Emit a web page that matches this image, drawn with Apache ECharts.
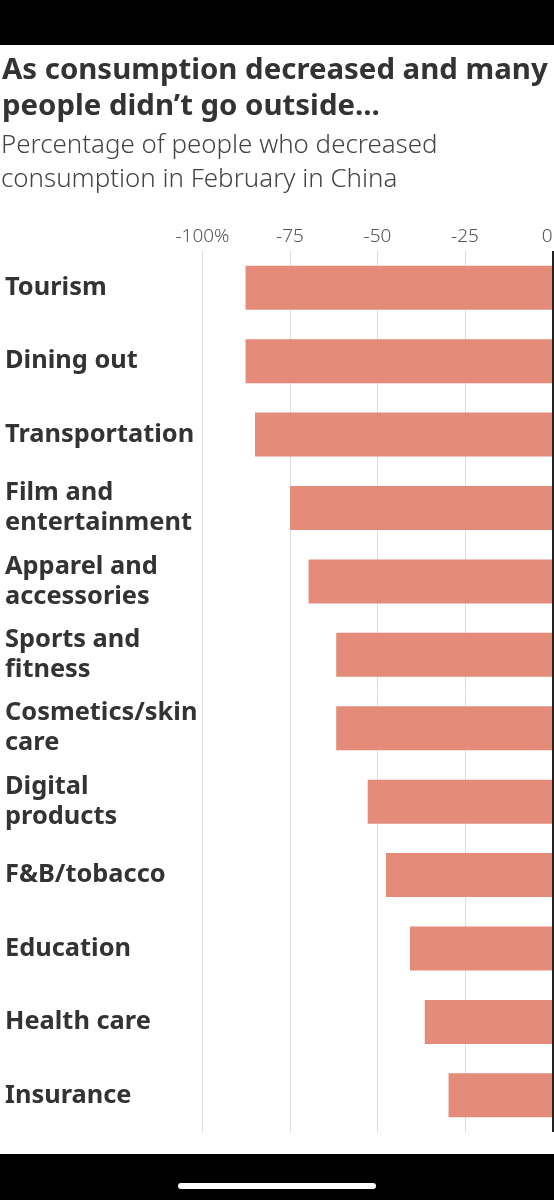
<!DOCTYPE html>
<html><head><meta charset="utf-8">
<script src="https://cdn.jsdelivr.net/npm/echarts@6/dist/echarts.min.js"></script>
<style>html,body{margin:0;padding:0;background:#fff}#c{width:554px;height:1200px}</style>
</head><body><div id="c"></div>
<script>
var categories = ['Tourism', 'Dining out', 'Transportation', 'Film and\nentertainment', 'Apparel and\naccessories', 'Sports and\nfitness', 'Cosmetics/skin\ncare', 'Digital\nproducts', 'F&B/tobacco', 'Education', 'Health care', 'Insurance'];
var decreased = [-87.7, -87.7, -85.0, -75.0, -69.7, -61.8, -61.8, -52.8, -47.6, -40.7, -36.5, -29.7];
var tickValues = [-100, -75, -50, -25, 0];
var tickLabels = ['-100%', '-75', '-50', '-25', '0'];
var titleLines = ['As consumption decreased and many', 'people didn\u2019t go outside...'];
var subtitleLines = ['Percentage of people who decreased', 'consumption in February in China'];

var FONT = '"Noto Sans", sans-serif';
var chart = echarts.init(document.getElementById('c'), null, {renderer: 'canvas'});
chart.setOption({
  animation: false,
  backgroundColor: '#fff',
  title: [{
    text: titleLines.join('\n'),
    left: 2, top: 52.6, padding: 0,
    textStyle: {fontFamily: FONT, fontWeight: 'bold', fontSize: 29.4, lineHeight: 36, color: '#333'}
  }, {
    text: subtitleLines.join('\n'),
    left: 1, top: 128.4, padding: 0,
    textStyle: {fontFamily: FONT, fontWeight: 300, fontSize: 25.9, lineHeight: 34, color: '#444'}
  }],
  grid: {left: 202.5, right: 1.5, top: 251, bottom: 68, containLabel: false, outerBoundsMode: 'none'},
  xAxis: {
    type: 'value', position: 'top', min: -100, max: 0, interval: 25,
    axisLine: {show: false}, axisTick: {show: false},
    splitLine: {show: true, lineStyle: {color: '#dddddd', width: 1}},
    axisLabel: {
      margin: 14.6, verticalAlign: 'middle', alignMaxLabel: 'right',
      fontFamily: FONT, fontWeight: 300, fontSize: 19, color: '#555',
      formatter: function (v) { var i = tickValues.indexOf(v); return i >= 0 ? tickLabels[i] : String(v); }
    }
  },
  yAxis: {
    type: 'category', data: categories, inverse: true,
    axisLine: {show: false}, axisTick: {show: false}, splitLine: {show: false},
    axisLabel: {
      margin: 197.5, align: 'left', verticalAlign: 'middle', padding: [9, 0, 0, 0],
      fontFamily: FONT, fontWeight: 'bold', fontSize: 25.4, lineHeight: 30, color: '#333'
    }
  },
  series: [{
    type: 'bar', data: decreased, barWidth: 44,
    itemStyle: {color: '#e48b79'},
    markLine: {
      silent: true, symbol: ['none', 'none'], label: {show: false},
      lineStyle: {color: '#222', width: 2, type: 'solid'},
      data: [{xAxis: 0}]
    }
  }],
  graphic: [
    {type: 'rect', shape: {x: 0, y: 0, width: 554, height: 45}, style: {fill: '#000'}},
    {type: 'rect', shape: {x: 0, y: 1154, width: 554, height: 46}, style: {fill: '#000'}},
    {type: 'rect', shape: {x: 178, y: 1183, width: 198, height: 6, r: 3}, style: {fill: '#fff'}}
  ]
});
</script></body></html>
